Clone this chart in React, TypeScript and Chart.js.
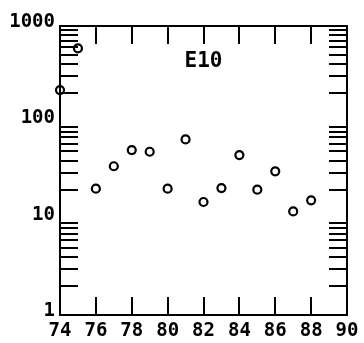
import React, { useEffect, useRef } from "react";
import { Chart, registerables } from "chart.js";

Chart.register(...registerables);

const years = [74, 75, 76, 77, 78, 79, 80, 81, 82, 83, 84, 85, 86, 87, 88];
const values = [216, 586, 20.5, 35, 51.5, 49.5, 20.5, 66.5, 14.9, 20.8, 45.7, 20, 31, 11.9, 15.5];
const xTicks = [74, 76, 78, 80, 82, 84, 86, 88, 90];
const yDecades = [1, 10, 100, 1000];
const label = "E10";

const FONT = "'DejaVu Sans Mono', monospace";

const framePlugin = {
  id: "frame",
  afterDraw(chart: any) {
    const { ctx, chartArea: a, scales } = chart;
    const xs = scales.x;
    const ys = scales.y;
    ctx.save();
    ctx.strokeStyle = "#000";
    ctx.lineWidth = 2;
    ctx.strokeRect(a.left, a.top, a.right - a.left, a.bottom - a.top);
    const L = 18;
    ctx.beginPath();
    for (const v of xTicks) {
      if (v === xTicks[0] || v === xTicks[xTicks.length - 1]) continue;
      const px = Math.round(xs.getPixelForValue(v));
      ctx.moveTo(px, a.bottom);
      ctx.lineTo(px, a.bottom - L);
      ctx.moveTo(px, a.top);
      ctx.lineTo(px, a.top + L);
    }
    for (let d = 0; d < yDecades.length - 1; d++) {
      for (let m = 2; m <= 9; m++) {
        const py = Math.round(ys.getPixelForValue(yDecades[d] * m));
        ctx.moveTo(a.left, py);
        ctx.lineTo(a.left + L, py);
        ctx.moveTo(a.right, py);
        ctx.lineTo(a.right - L, py);
      }
    }
    ctx.stroke();
    ctx.fillStyle = "#000";
    ctx.font = "bold 21px " + FONT;
    ctx.textAlign = "center";
    ctx.textBaseline = "middle";
    ctx.fillText(label, xs.getPixelForValue(82), ys.getPixelForValue(430));
    ctx.restore();
  },
};

export default function App() {
  const ref = useRef<HTMLCanvasElement>(null);
  useEffect(() => {
    const chart = new Chart(ref.current!, {
      type: "scatter",
      data: {
        datasets: [
          {
            data: years.map((x, i) => ({ x, y: values[i] })),
            pointStyle: "circle",
            pointRadius: 4,
            pointBorderWidth: 2.2,
            pointBackgroundColor: "rgba(0,0,0,0)",
            pointBorderColor: "#000",
            clip: false,
          } as any,
        ],
      },
      options: {
        animation: false,
        responsive: false,
        maintainAspectRatio: false,
        layout: { padding: { left: 0, right: 17, top: 26, bottom: 0 } },
        plugins: { legend: { display: false }, tooltip: { enabled: false } },
        scales: {
          x: {
            type: "linear",
            min: 74,
            max: 90,
            afterBuildTicks: (s: any) => {
              s.ticks = xTicks.map((v) => ({ value: v }));
            },
            afterFit: (s: any) => {
              s.height = 28;
            },
            grid: { display: false, drawTicks: false },
            border: { display: false },
            ticks: {
              color: "#000",
              padding: 5,
              maxRotation: 0,
              autoSkip: false,
              font: { family: FONT, size: 19, weight: "bold" },
            },
          },
          y: {
            type: "logarithmic",
            min: 1,
            max: 1000,
            afterBuildTicks: (s: any) => {
              s.ticks = yDecades.map((v) => ({ value: v }));
            },
            afterFit: (s: any) => {
              s.width = 60;
            },
            grid: { display: false, drawTicks: false },
            border: { display: false },
            ticks: {
              color: "#000",
              padding: 5,
              labelOffset: -4,
              autoSkip: false,
              callback: (v: any) => String(v),
              font: { family: FONT, size: 19, weight: "bold" },
            },
          },
        },
      },
      plugins: [framePlugin],
    });
    return () => chart.destroy();
  }, []);
  return (
    <div style={{ position: "fixed", left: 0, top: 0, width: 364, height: 343, background: "#fff" }}>
      <canvas ref={ref} width={364} height={343} style={{ width: 364, height: 343 }} />
    </div>
  );
}
